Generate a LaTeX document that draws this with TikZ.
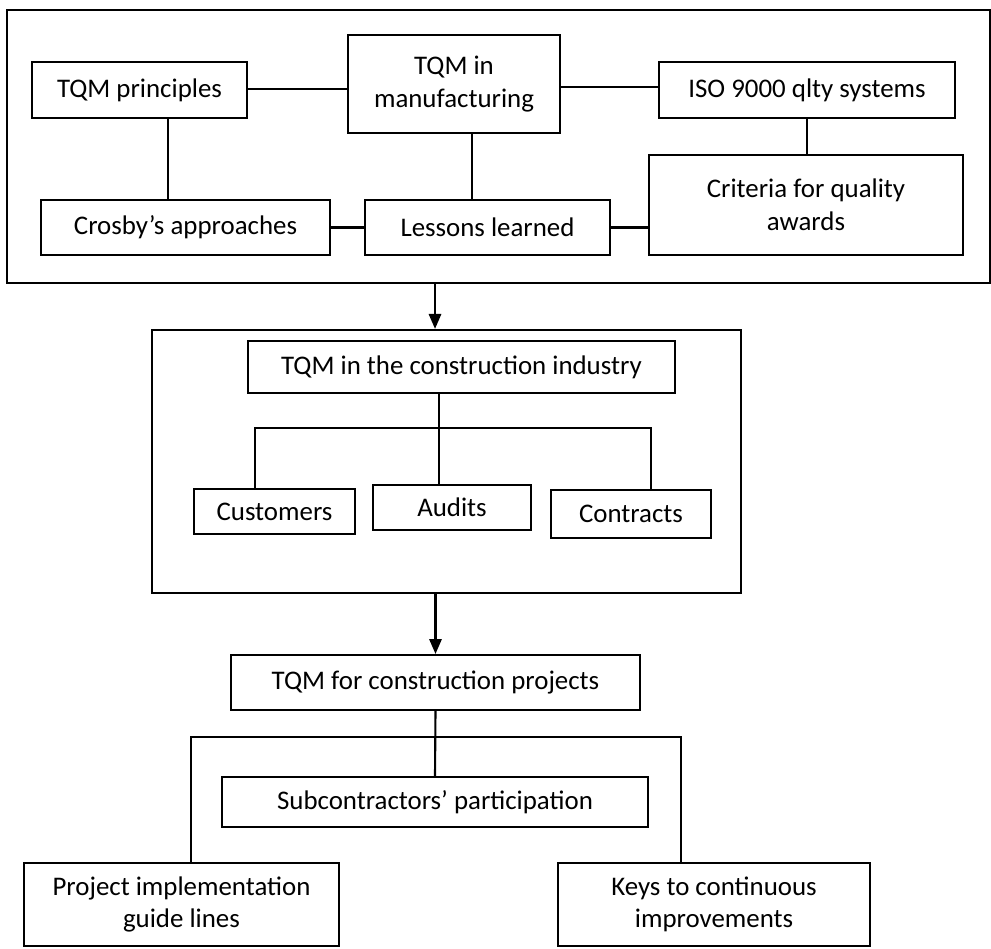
\documentclass[tikz,border=0pt]{standalone}
\usepackage{fontspec}
\setmainfont{Carlito}
\usetikzlibrary{arrows.meta,positioning,calc}

\begin{document}
\begin{tikzpicture}[
    x=0.02cm, y=-0.02cm,
    >={Triangle[length=8.5pt, width=7pt]},
    every node/.style={font=\fontsize{15.3}{18.5}\selectfont, text=black},
    box/.style={draw, line width=1.2pt, inner sep=0pt, align=center},
    frame/.style={draw, line width=1.3pt, inner sep=0pt},
    link/.style={line width=1.2pt},
]
\useasboundingbox (0,0) rectangle (991,949);

% Manufacturing frame
\node[frame, minimum width=19.66cm, minimum height=5.46cm] (top) at (498.5,146.5) {};

\node[box, minimum width=4.3cm, minimum height=1.12cm] (prin) at (139.5,90) {TQM principles};
\node[box, minimum width=4.24cm, minimum height=1.96cm] (manu) at (454,84) {TQM in\\manufacturing};
\node[box, minimum width=5.92cm, minimum height=1.12cm] (iso) at (807,90) {ISO 9000 qlty systems};
\node[box, minimum width=6.28cm, minimum height=2.0cm] (crit) at (806,205) {Criteria for quality\\awards};
\node[box, minimum width=5.78cm, minimum height=1.1cm] (crosby) at (185.5,227.5) {Crosby's approaches};
\node[box, minimum width=4.9cm, minimum height=1.1cm] (less) at (487.5,227.5) {Lessons learned};

\draw[link] (prin.east |- 0,89) -- (manu.west |- 0,89);
\draw[link] (manu.east |- 0,87) -- (iso.west |- 0,87);
\draw[link] ([xshift=0.57cm]prin.south) -- ([xshift=0.57cm]prin.south |- crosby.north);
\draw[link] ([xshift=0.36cm]manu.south) -- ([xshift=0.36cm]manu.south |- less.north);
\draw[link] (iso.south) -- (iso.south |- crit.north);
\draw[link] (crosby.east) -- (less.west);
\draw[link] (less.east) -- (less.east -| crit.west);

% Construction industry frame
\node[frame, minimum width=11.78cm, minimum height=5.26cm] (mid) at (446.5,461.5) {};

\draw[->, link] ([xshift=-1.27cm]top.south) -- ([xshift=-1.27cm]top.south |- mid.north);

\node[box, minimum width=8.54cm, minimum height=1.04cm] (ind) at (461.5,367) {TQM in the construction industry};
\node[box, minimum width=3.22cm, minimum height=0.9cm] (cust) at (274.5,511.5) {Customers};
\node[box, minimum width=3.16cm, minimum height=0.9cm] (aud) at (452,507.5) {Audits};
\node[box, minimum width=3.2cm, minimum height=0.96cm] (contr) at (631,514) {Contracts};

\coordinate (fork1) at (439,428);
\draw[link] ([xshift=-0.45cm]ind.south) -- ([xshift=-0.45cm]ind.south |- aud.north);
\draw[link] ([xshift=-0.39cm]cust.north) |- (fork1) -| ([xshift=0.4cm]contr.north);

% Construction projects
\node[box, minimum width=8.18cm, minimum height=1.1cm] (proj) at (435.5,682.5) {TQM for construction projects};

\draw[->, link] (mid.south -| proj.north) -- (proj.north);

\node[box, minimum width=8.52cm, minimum height=1.0cm] (sub) at (435,802) {Subcontractors' participation};
\node[box, minimum width=6.3cm, minimum height=1.66cm] (impl) at (181.5,904.5) {Project implementation\\guide lines};
\node[box, minimum width=6.24cm, minimum height=1.66cm] (keys) at (714,904.5) {Keys to continuous\\improvements};

\coordinate (fork2) at (437,737);
\draw[link] (proj.south) -- (sub.north);
\draw[link] ([xshift=0.19cm]impl.north) |- (fork2) -| ([xshift=-0.66cm]keys.north);

\end{tikzpicture}
\end{document}
